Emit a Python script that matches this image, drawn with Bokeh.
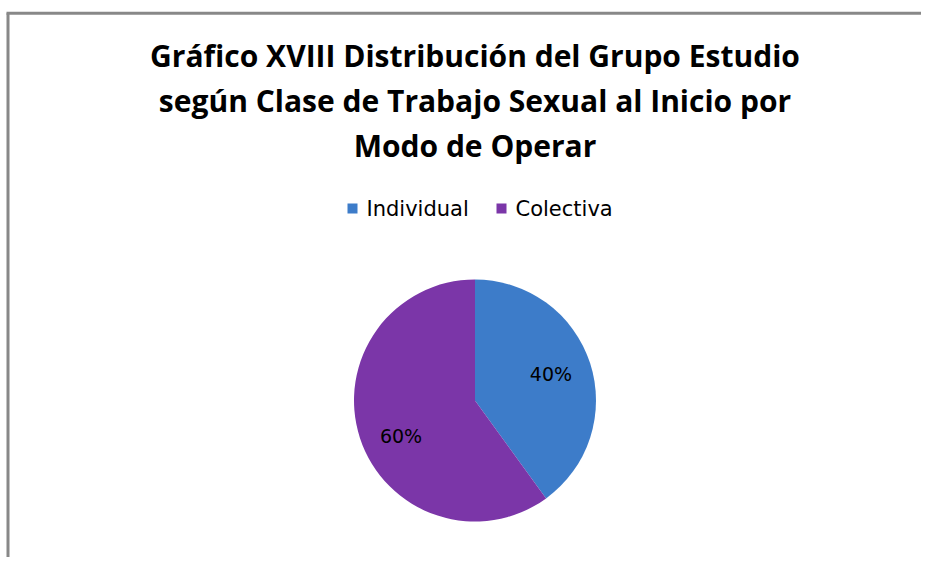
import numpy as np
from bokeh.plotting import figure
from bokeh.models import ColumnDataSource, Range1d
from bokeh.core.properties import value
from bokeh.embed import file_html
from bokeh.resources import INLINE

# ---- data ----
categories = ["Individual", "Colectiva"]
shares = [40, 60]
colors = ["#3D7CC9", "#7B36A8"]
title_lines = [
    "Gráfico XVIII Distribución del Grupo Estudio",
    "según Clase de Trabajo Sexual al Inicio por",
    "Modo de Operar",
]

# ---- layout ----
W, H = 921, 557
p = figure(width=W, height=H, output_backend="svg", toolbar_location=None,
           x_range=Range1d(0, W), y_range=Range1d(0, H),
           min_border=0, outline_line_color=None,
           background_fill_color="white", border_fill_color="white")
p.axis.visible = False
p.grid.visible = False

# chart-area border (left and top edges visible)
p.segment(x0=[7.5, 6], y0=[0, 544.2], x1=[7.5, W], y1=[544.2, 544.2],
          line_color="#888888", line_width=3)

# pie: start at 12 o'clock, go clockwise
cx, cy, r = 474.5, 157, 121
frac = np.array(shares, dtype=float) / sum(shares)
ang = 2 * np.pi * frac
ends = np.pi / 2 - np.concatenate([[0], np.cumsum(ang)[:-1]])
starts = ends - ang
mids = (starts + ends) / 2
src = ColumnDataSource(dict(start=starts, end=ends, color=colors, cat=categories))
p.wedge(x=cx, y=cy, radius=r, start_angle="start", end_angle="end",
        fill_color="color", line_color=None, source=src)

# percentage labels (small layout nudges per label)
lr = 0.66 * r
label_dx = [0, 2]
label_dy = [2, -11]
lab = ColumnDataSource(dict(
    x=cx + lr * np.cos(mids) + np.array(label_dx),
    y=cy + lr * np.sin(mids) + np.array(label_dy),
    t=[f"{s}%" for s in shares]))
p.text(x="x", y="y", text="t", source=lab, text_align="center",
       text_baseline="middle", text_font=value("DejaVu Sans"),
       text_font_size="19px", text_color="#000000")

# title
p.text(x=[474.5] * 3, y=[502, 457, 412], text=title_lines,
       text_align="center", text_baseline="middle",
       text_font=value("Open Sans"), text_font_style="bold",
       text_font_size="30px", text_color="#000000")

# legend
lx = [352, 501]
ly = 349
p.rect(x=lx, y=[ly] * 2, width=10, height=10, fill_color=colors,
       line_color=None)
p.text(x=[v + 14 for v in lx], y=[ly] * 2, text=categories,
       text_align="left", text_baseline="middle",
       text_font=value("DejaVu Sans"),
       text_font_size="21px", text_color="#000000")

open("out.html", "w").write(file_html(p, INLINE))
